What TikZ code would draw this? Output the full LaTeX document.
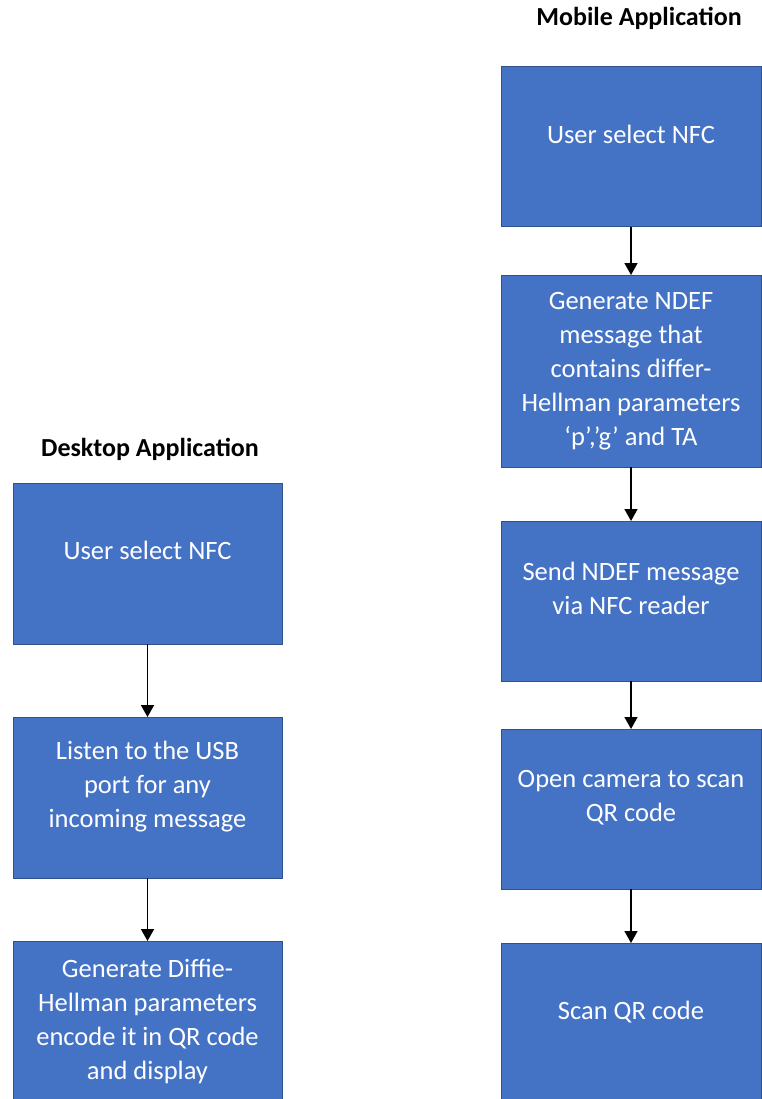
\documentclass[tikz,border=0pt]{standalone}
\usepackage{fontspec}
\setmainfont{Carlito}
\usetikzlibrary{positioning}
\usetikzlibrary{arrows.meta}
\definecolor{boxblue}{HTML}{4472C4}
\definecolor{boxline}{HTML}{2F528F}

\begin{document}
\begin{tikzpicture}[x=1pt,y=-1pt,->,>={Triangle[width=13pt,length=12pt]}]
	\tikzset{block/.style = {shape=rectangle, draw=boxline, line width=1pt, fill=boxblue, text=white, align=center, font=\fontsize{26.5}{34}\selectfont, inner sep=0pt, outer sep=0pt, minimum width=260pt, minimum height=160pt}}
	\tikzset{raised/.style = {text depth=26pt}}
	\tikzset{heading/.style = {font=\fontsize{26}{30}\selectfont\bfseries, text=black}}
	\tikzset{flow/.style = {line width=1.6pt, black}}
	\useasboundingbox (0,0) rectangle (761,1099);

	% mobile side
	\node[heading] (MOBILE) at (639,18) {Mobile Application};
	\node[block, raised, anchor=north west] (MSELECT) at (501,67) {User select NFC};
	\node[block, below=48pt of MSELECT, minimum height=192pt] (MNDEF)
	{Generate NDEF\\ message that\\ contains differ-\\ Hellman parameters\\ ‘p’,’g’ and TA};
	\node[block, raised, below=54pt of MNDEF] (MSEND) {Send NDEF message\\ via NFC reader};
	\node[block, raised, below=48pt of MSEND] (MCAMERA) {Open camera to scan\\ QR code};
	\node[block, raised, below=54pt of MCAMERA] (MSCAN) {Scan QR code};

	% desktop side
	\node[heading] (DESKTOP) at (150,449) {Desktop Application};
	\node[block, raised, anchor=north west, minimum width=269pt, minimum height=161pt] (DSELECT) at (13,483) {User select NFC};
	\node[block, raised, below=73pt of DSELECT, minimum width=269pt, minimum height=161pt] (DLISTEN)
	{Listen to the USB\\ port for any\\ incoming message};
	\node[block, below=63pt of DLISTEN, minimum width=269pt, minimum height=161pt] (DGENERATE)
	{Generate Diffie-\\ Hellman parameters\\ encode it in QR code\\ and display};

	\draw[flow] (MSELECT) -- (MNDEF);
	\draw[flow] (MNDEF) -- (MSEND);
	\draw[flow] (MSEND) -- (MCAMERA);
	\draw[flow] (MCAMERA) -- (MSCAN);
	\draw[flow] (DSELECT) -- (DLISTEN);
	\draw[flow] (DLISTEN) -- (DGENERATE);
\end{tikzpicture}
\end{document}
